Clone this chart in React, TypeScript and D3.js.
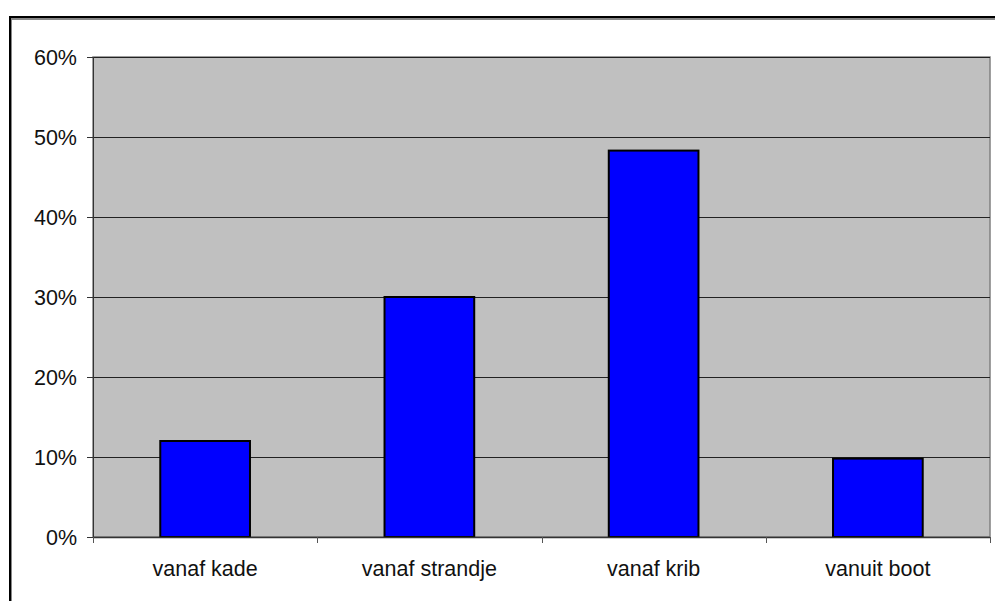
import React from "react";
import * as d3 from "d3";

const categories = ["vanaf kade", "vanaf strandje", "vanaf krib", "vanuit boot"];
const values = [0.12, 0.30, 0.483, 0.098];
const yTicks = [0, 0.1, 0.2, 0.3, 0.4, 0.5, 0.6];

const W = 995;
const H = 601;
const plot = { left: 93, right: 990, top: 57, bottom: 537 };

const App: React.FC = () => {
  const x = d3
    .scaleBand()
    .domain(categories)
    .range([plot.left, plot.right])
    .paddingInner(0.6)
    .paddingOuter(0.3);

  const band = (plot.right - plot.left) / categories.length;

  const y = d3.scaleLinear().domain([0, 0.6]).range([plot.bottom, plot.top]);
  const fmt = d3.format(".0%");
  const font = "'Liberation Sans', Arial, sans-serif";

  return (
    <svg
      width={W}
      height={H}
      style={{ position: "fixed", left: 0, top: 0, background: "#fff" }}
    >
      {/* chart area border with shadow */}
      <rect x={11} y={19} width={1000} height={700} fill="none" stroke="#888" strokeWidth={2} />
      <rect x={10} y={17} width={1000} height={700} fill="none" stroke="#000" strokeWidth={2} />

      {/* plot area */}
      <rect
        x={plot.left}
        y={plot.top}
        width={plot.right - plot.left}
        height={plot.bottom - plot.top}
        fill="#c0c0c0"
        stroke="#808080"
        strokeWidth={1.5}
      />

      {/* gridlines */}
      {yTicks.slice(1).map((t) => (
        <line
          key={t}
          x1={plot.left}
          x2={plot.right}
          y1={Math.round(y(t)) + 0.5}
          y2={Math.round(y(t)) + 0.5}
          stroke="#222"
          strokeWidth={1}
        />
      ))}

      {/* bars */}
      {categories.map((c, i) => (
        <rect
          key={c}
          x={x(c)}
          y={y(values[i])}
          width={x.bandwidth()}
          height={y(0) - y(values[i])}
          fill="#0000ff"
          stroke="#000"
          strokeWidth={2}
        />
      ))}

      {/* y axis */}
      <line x1={plot.left + 0.5} x2={plot.left + 0.5} y1={plot.top} y2={plot.bottom} stroke="#333" />
      {yTicks.map((t) => (
        <g key={t} transform={`translate(0,${Math.round(y(t)) + 0.5})`}>
          <line x1={plot.left - 6} x2={plot.left} stroke="#333" />
          <text
            x={77}
            dy="0.36em"
            textAnchor="end"
            fontFamily={font}
            fontSize={21.5}
            fill="#111"
          >
            {fmt(t)}
          </text>
        </g>
      ))}

      {/* x axis */}
      <line x1={plot.left} x2={plot.right} y1={plot.bottom + 0.5} y2={plot.bottom + 0.5} stroke="#333" strokeWidth={1.5} />
      {d3.range(categories.length + 1).map((i) => (
        <line
          key={i}
          x1={Math.round(plot.left + i * band) + 0.5}
          x2={Math.round(plot.left + i * band) + 0.5}
          y1={plot.bottom}
          y2={plot.bottom + 6}
          stroke="#555"
        />
      ))}
      {categories.map((c) => (
        <text
          key={c}
          x={(x(c) ?? 0) + x.bandwidth() / 2}
          y={576}
          textAnchor="middle"
          fontFamily={font}
          fontSize={21.5}
          fill="#111"
        >
          {c}
        </text>
      ))}
    </svg>
  );
};

export default App;
